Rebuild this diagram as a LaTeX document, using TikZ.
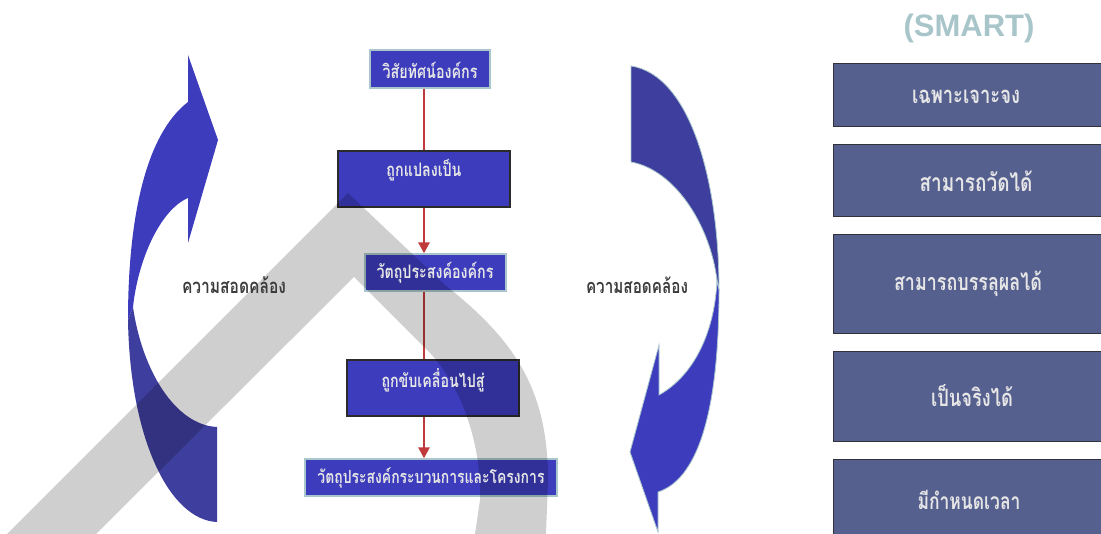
\documentclass[tikz,border=0pt]{standalone}
\usepackage{fontspec}
\usepackage{graphicx}
\setmainfont{Liberation Sans}
\newfontfamily\thai[Script=Thai]{Loma}
\usetikzlibrary{arrows.meta}

\definecolor{flowblue}{HTML}{3C3CBC}
\definecolor{bandbright}{HTML}{3C3CBC}
\definecolor{banddull}{HTML}{3E3E9E}
\definecolor{smartfill}{HTML}{56608F}
\definecolor{paleedge}{HTML}{A9C6CC}
\definecolor{darkedge}{HTML}{2B2B2B}
\definecolor{flowred}{HTML}{C0393B}
\definecolor{labelgray}{HTML}{3C3C3C}
\definecolor{boxtext}{HTML}{E6E6E6}
\definecolor{smartgray}{HTML}{A8C5CA}

% set a line of text to a given width, slightly stretched upward
\newcommand{\fitw}[2]{\scalebox{1}[1.3]{\resizebox{#1}{!}{#2}}}

\tikzset{
  flowbox/.style={rectangle, fill=flowblue, line width=1.3pt, inner sep=0pt},
  paleframe/.style={draw=paleedge},
  darkframe/.style={draw=darkedge},
  smartbox/.style={rectangle, fill=smartfill, draw=darkedge!85!smartfill,
    line width=1pt, inner sep=0pt, anchor=north west, minimum width=290pt},
  thaitext/.style={text=boxtext, inner sep=0pt, font=\thai\bfseries},
  sidelabel/.style={text=labelgray, inner sep=0pt, font=\thai\bfseries},
  flowline/.style={draw=flowred, line width=2.6pt},
  flowarrow/.style={flowline, -{Triangle[length=11pt,width=11pt]}},
  bandedge/.style={draw=paleedge, line width=0.8pt},
}

\begin{document}
\begin{tikzpicture}[x=1pt,y=-1pt]
\useasboundingbox (0,0) rectangle (1101,534);
\begin{scope}
\clip (0,0) rectangle (1101,534);

% left curved arrow, pointing up
\fill[banddull] (128,320) .. controls (130,440) and (170,520) .. (217,522)
  -- (217,427) .. controls (175,425) and (142,370) .. (133,307) -- cycle;
\fill[bandbright] (188,102) -- (188,55) -- (218,140) -- (188,243) -- (188,198)
  .. controls (160,210) and (138,260) .. (133,307) -- (128,320)
  .. controls (128,220) and (145,135) .. (188,102) -- cycle;

% right curved arrow, pointing down
\filldraw[banddull, bandedge] (631,66) -- (631,162)
  .. controls (675,170) and (710,225) .. (717,280) -- (719,290)
  .. controls (719,180) and (690,75) .. (631,66) -- cycle;
\filldraw[bandbright, bandedge] (719,290) .. controls (719,420) and (695,480) .. (658,492)
  -- (658,532) -- (630,452) -- (659,345) -- (659,395)
  .. controls (695,375) and (715,330) .. (717,280) -- cycle;

% flow of objectives
\node[flowbox, paleframe, minimum width=120pt, minimum height=38pt] (b1) at (430,69) {};
\node[flowbox, darkframe, minimum width=172pt, minimum height=56pt] (b2) at (424,179) {};
\node[flowbox, paleframe, minimum width=141pt, minimum height=37pt] (b3) at (435.5,272.5) {};
\node[flowbox, darkframe, minimum width=172pt, minimum height=56pt] (b4) at (433,388) {};
\node[flowbox, paleframe, minimum width=252pt, minimum height=37pt] (b5) at (431,477.5) {};

\draw[flowline] (b1.south -| b2.north) -- (b2.north);
\draw[flowarrow] (b2.south) -- (b2.south |- b3.north);
\draw[flowline] (b3.south -| b2.south) -- (b4.north -| b2.south);
\draw[flowarrow] (b4.south -| b2.south) -- (b5.north -| b2.south);

% SMART criteria
\node[smartbox, minimum height=63pt] (s1) at (833,63) {};
\node[smartbox, minimum height=72pt] (s2) at (833,144) {};
\node[smartbox, minimum height=99pt] (s3) at (833,234) {};
\node[smartbox, minimum height=90pt] (s4) at (833,351) {};
\node[smartbox, minimum height=95pt] (s5) at (833,459) {};

% translucent grey emblem laid over the drawing
\fill[black, opacity=0.19] (7,534) -- (348,193) -- (445,285)
  .. controls (515,340) and (548,390) .. (548,480) -- (546,534) -- (475,534)
  -- (480,500) .. controls (482,440) and (458,382) .. (430,353)
  -- (354,277) -- (96,534) -- cycle;
\end{scope}

% texts
\node[thaitext] (t1) at (430,70) {\fitw{95pt}{วิสัยทัศน์องค์กร}};
\node[thaitext] (t2) at (424,170) {\fitw{75pt}{ถูกแปลงเป็น}};
\node[thaitext] (t3) at (435,273) {\fitw{117pt}{วัตถุประสงค์องค์กร}};
\node[thaitext] (t4) at (433,380) {\fitw{103pt}{ถูกขับเคลื่อนไปสู่}};
\node[thaitext] (t5) at (431,478) {\fitw{227pt}{วัตถุประสงค์กระบวนการและโครงการ}};

\node[sidelabel] (l1) at (234,285) {\fitw{104pt}{ความสอดคล้อง}};
\node[sidelabel] (l2) at (637,285) {\fitw{102pt}{ความสอดคล้อง}};

\node[text=smartgray, inner sep=0pt, font=\fontsize{31}{34}\selectfont\bfseries] (smart) at (969,28) {(SMART)};
\node[thaitext] (u1) at (966,97) {\fitw{108pt}{เฉพาะเจาะจง}};
\node[thaitext] (u2) at (976,181) {\fitw{113pt}{สามารถวัดได้}};
\node[thaitext] (u3) at (968,284) {\fitw{148pt}{สามารถบรรลุผลได้}};
\node[thaitext] (u4) at (972,396) {\fitw{82pt}{เป็นจริงได้}};
\node[thaitext] (u5) at (969,500) {\fitw{103pt}{มีกำหนดเวลา}};
\end{tikzpicture}
\end{document}
